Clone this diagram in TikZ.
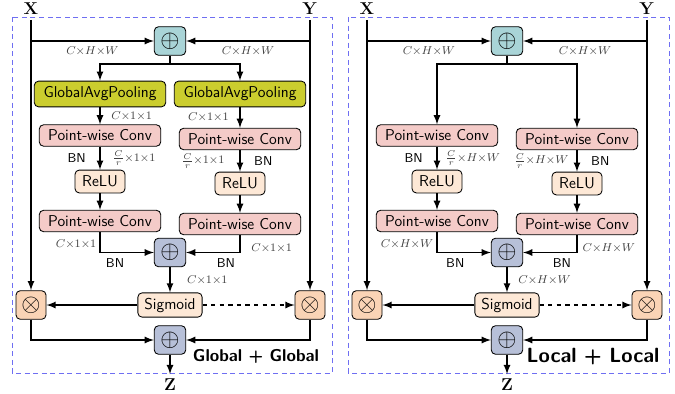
\documentclass[tikz,border=0pt]{standalone}
\usepackage{tikz}
\usetikzlibrary{shapes,calc,arrows}

\definecolor{sumteal}{HTML}{A9D4D7}
\definecolor{gapyellow}{HTML}{CBCD2E}
\definecolor{convpink}{HTML}{F4CBC8}
\definecolor{relupeach}{HTML}{FDE8D6}
\definecolor{mulorange}{HTML}{FAD4B6}
\definecolor{fuseblue}{HTML}{B7C0D8}
\definecolor{panelblue}{HTML}{6F6FF2}

\tikzset{
  box/.style={draw, line width=0.6pt, rounded corners=3pt, font=\sffamily\fontsize{11}{13}\selectfont, inner sep=2pt},
  gapbox/.style={box, fill=gapyellow, minimum width=92pt, minimum height=18pt},
  convbox/.style={box, fill=convpink, minimum width=85pt, minimum height=15pt},
  relubox/.style={box, fill=relupeach, minimum width=35pt, minimum height=16pt},
  sigbox/.style={box, fill=relupeach, minimum width=45pt, minimum height=17pt},
  sumbox/.style={box, minimum width=22pt, minimum height=20pt, font=\LARGE},
  mulbox/.style={box, fill=mulorange, minimum width=21pt, minimum height=20pt, font=\LARGE},
  flow/.style={line width=1.2pt, -latex},
  dimlbl/.style={font=\fontsize{8.5}{10}\selectfont, text=black!75},
  bnlbl/.style={font=\small\sffamily},
  io/.style={font=\large},
  panel/.style={draw=panelblue, line width=0.6pt, dash pattern=on 3.5pt off 2.5pt}
}

\begin{document}
\begin{tikzpicture}[x=0.7pt, y=-0.7pt]
  \useasboundingbox (0,0) rectangle (675,393);

  % Global + Global
  \draw[panel] (12,17) rectangle (332,373);
  \node[io] (xG) at (31,9) {$\mathbf{X}$};
  \node[io] (yG) at (310,9) {$\mathbf{Y}$};
  \node[sumbox, fill=sumteal] (sumG) at (170,41) {$\oplus$};
  \coordinate (splitG) at (170,64);
  \node[gapbox] (gapG1) at (100,94) {GlobalAvgPooling};
  \node[gapbox] (gapG2) at (240,94) {GlobalAvgPooling};
  \node[convbox] (convG1) at (100,135.5) {Point-wise Conv};
  \node[convbox] (convG2) at (240,139) {Point-wise Conv};
  \node[relubox] (reluG1) at (100,181.5) {ReLU};
  \node[relubox] (reluG2) at (240,183.5) {ReLU};
  \node[convbox] (convG3) at (100,221) {Point-wise Conv};
  \node[convbox] (convG4) at (240,224) {Point-wise Conv};
  \node[sumbox, fill=fuseblue] (fuseG) at (170,252.5) {$\oplus$};
  \node[sigbox] (sigG) at (170,305) {Sigmoid};
  \node[mulbox] (mulG1) at (31,305) {$\otimes$};
  \node[mulbox] (mulG2) at (310,305) {$\otimes$};
  \node[sumbox, fill=fuseblue] (outG) at (170,340) {$\oplus$};
  \node[io] (zG) at (170,385) {$\mathbf{Z}$};
  \node[font=\sffamily\bfseries\large] (tagG) at (256,356) {Global + Global};

  \draw[flow] (xG) -- (mulG1);
  \draw[flow] (yG) -- (mulG2);
  \draw[flow] (xG |- sumG) -- (sumG) node[midway,below,dimlbl] {$C{\times}H{\times}W$};
  \draw[flow] (yG |- sumG) -- (sumG) node[midway,below,dimlbl] {$C{\times}H{\times}W$};
  \draw[line width=1.2pt] (sumG) -- (splitG);
  \draw[flow] (splitG) -| (gapG1);
  \draw[flow] (splitG) -| (gapG2);
  \draw[flow] (gapG1) -- (convG1) node[midway,right=4pt,dimlbl] {$C{\times}1{\times}1$};
  \draw[flow] (gapG2) -- (convG2) node[midway,left=4pt,dimlbl] {$C{\times}1{\times}1$};
  \draw[flow] (convG1) -- (reluG1) node[midway,left=6pt,bnlbl] {BN} node[midway,right=5pt,dimlbl] {$\frac{C}{r}{\times}1{\times}1$};
  \draw[flow] (convG2) -- (reluG2) node[midway,left=7pt,dimlbl] {$\frac{C}{r}{\times}1{\times}1$} node[midway,right=6pt,bnlbl] {BN};
  \draw[flow] (reluG1) -- (convG3);
  \draw[flow] (reluG2) -- (convG4);
  \draw[flow] (convG3) |- (fuseG) node[pos=0.5,anchor=south east,inner sep=2pt,dimlbl] {$C{\times}1{\times}1$} node[pos=0.64,below,bnlbl] {BN};
  \draw[flow] (convG4) |- (fuseG) node[pos=0.5,anchor=west,xshift=4pt,yshift=3pt,dimlbl] {$C{\times}1{\times}1$} node[pos=0.63,below,bnlbl] {BN};
  \draw[flow] (fuseG) -- (sigG) node[midway,right=8pt,dimlbl] {$C{\times}1{\times}1$};
  \draw[flow] (sigG) -- (mulG1);
  \draw[flow,dashed] (sigG) -- (mulG2);
  \draw[flow] (mulG1) |- (outG);
  \draw[flow] (mulG2) |- (outG);
  \draw[flow] (outG) -- (zG);

  % Local + Local
  \draw[panel] (348,17) rectangle (669,373);
  \node[io] (xL) at (367,9) {$\mathbf{X}$};
  \node[io] (yL) at (647,9) {$\mathbf{Y}$};
  \node[sumbox, fill=sumteal] (sumL) at (507,41) {$\oplus$};
  \coordinate (splitL) at (507,64);
  \node[convbox] (convL1) at (437,135.5) {Point-wise Conv};
  \node[convbox] (convL2) at (577,139) {Point-wise Conv};
  \node[relubox] (reluL1) at (437,181.5) {ReLU};
  \node[relubox] (reluL2) at (577,183.5) {ReLU};
  \node[convbox] (convL3) at (437,221) {Point-wise Conv};
  \node[convbox] (convL4) at (577,224) {Point-wise Conv};
  \node[sumbox, fill=fuseblue] (fuseL) at (507,252.5) {$\oplus$};
  \node[sigbox] (sigL) at (507,305) {Sigmoid};
  \node[mulbox] (mulL1) at (367,305) {$\otimes$};
  \node[mulbox] (mulL2) at (647,305) {$\otimes$};
  \node[sumbox, fill=fuseblue] (outL) at (507,340) {$\oplus$};
  \node[io] (zL) at (507,385) {$\mathbf{Z}$};
  \node[font=\sffamily\bfseries\Large] (tagL) at (593,357) {Local + Local};

  \draw[flow] (xL) -- (mulL1);
  \draw[flow] (yL) -- (mulL2);
  \draw[flow] (xL |- sumL) -- (sumL) node[midway,below,dimlbl] {$C{\times}H{\times}W$};
  \draw[flow] (yL |- sumL) -- (sumL) node[midway,below,dimlbl] {$C{\times}H{\times}W$};
  \draw[line width=1.2pt] (sumL) -- (splitL);
  \draw[flow] (splitL) -| (convL1);
  \draw[flow] (splitL) -| (convL2);
  \draw[flow] (convL1) -- (reluL1) node[midway,left=6pt,bnlbl] {BN} node[midway,right=2pt,dimlbl] {$\frac{C}{r}{\times}H{\times}W$};
  \draw[flow] (convL2) -- (reluL2) node[midway,left=2pt,dimlbl] {$\frac{C}{r}{\times}H{\times}W$} node[midway,right=6pt,bnlbl] {BN};
  \draw[flow] (reluL1) -- (convL3);
  \draw[flow] (reluL2) -- (convL4);
  \draw[flow] (convL3) |- (fuseL) node[pos=0.5,anchor=south east,inner sep=2pt,dimlbl] {$C{\times}H{\times}W$} node[pos=0.67,below,bnlbl] {BN};
  \draw[flow] (convL4) |- (fuseL) node[pos=0.5,anchor=west,yshift=3pt,dimlbl] {$C{\times}H{\times}W$} node[pos=0.64,below,bnlbl] {BN};
  \draw[flow] (fuseL) -- (sigL) node[midway,right=4pt,dimlbl] {$C{\times}H{\times}W$};
  \draw[flow] (sigL) -- (mulL1);
  \draw[flow,dashed] (sigL) -- (mulL2);
  \draw[flow] (mulL1) |- (outL);
  \draw[flow] (mulL2) |- (outL);
  \draw[flow] (outL) -- (zL);
\end{tikzpicture}
\end{document}
